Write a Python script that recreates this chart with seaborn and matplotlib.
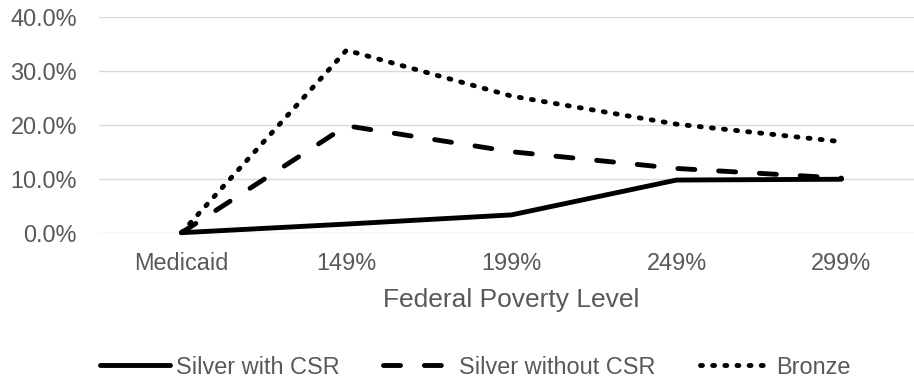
import matplotlib
matplotlib.use("Agg")
import matplotlib.pyplot as plt
import pandas as pd
import seaborn as sns

# Share of enrollees (%) by federal poverty level band
categories = ["Medicaid", "149%", "199%", "249%", "299%"]
silver_with_csr = [0.0, 1.6, 3.3, 9.75, 9.9]
silver_without_csr = [0.0, 19.8, 15.0, 11.9, 10.1]
bronze = [0.0, 33.8, 25.3, 20.1, 16.85]
series_names = ["Silver with CSR", "Silver without CSR", "Bronze"]
y_ticks = [0, 10, 20, 30, 40]

df = pd.concat(
    [
        pd.DataFrame({"level": categories, "share": vals, "series": name})
        for name, vals in zip(series_names, [silver_with_csr, silver_without_csr, bronze])
    ],
    ignore_index=True,
)

sns.set_theme(style="white")
plt.rcParams["font.family"] = ["Liberation Sans", "DejaVu Sans"]
plt.rcParams["lines.dash_capstyle"] = "round"
plt.rcParams["lines.solid_capstyle"] = "round"
plt.rcParams["lines.dash_joinstyle"] = "round"
plt.rcParams["lines.solid_joinstyle"] = "round"

text_color = "#595959"
grid_color = "#d9d9d9"
tick_size = 16.9

fig = plt.figure(figsize=(9.14, 3.81), dpi=100)
ax = fig.add_axes([99 / 914, 1 - 232.7 / 381, 825 / 914, 216 / 381])

dash_styles = {
    "Silver with CSR": "",
    "Silver without CSR": (3.5, 4.9),
    "Bronze": (0.4, 2.1),
}
sns.lineplot(
    data=df, x="level", y="share", hue="series", style="series",
    hue_order=series_names, style_order=series_names,
    palette={n: "black" for n in series_names},
    dashes=dash_styles, linewidth=3.5, sort=False, legend=False, ax=ax,
)
for ln in ax.lines:
    ln.set_clip_on(False)
    ln.set_zorder(3)

ax.set_xlim(-0.5, len(categories) - 0.5)
ax.set_ylim(0, 40)
ax.set_yticks(y_ticks)
ax.set_yticklabels([f"{v:.1f}%" for v in y_ticks])
ax.yaxis.grid(True, color=grid_color, linewidth=1.0)
ax.xaxis.grid(False)
for s in ax.spines.values():
    s.set_visible(False)

ax.tick_params(axis="y", length=0, pad=15.8, labelsize=tick_size, labelcolor=text_color)
ax.tick_params(axis="x", length=0, pad=13.9, labelsize=tick_size, labelcolor=text_color)
ax.set_ylabel("")
ax.set_xlabel("Federal Poverty Level", fontsize=19, color=text_color, labelpad=9)

handles = list(ax.lines[: len(series_names)])
leg = fig.legend(
    handles, series_names, loc="center", bbox_to_anchor=(475 / 914, 1 - 367 / 381),
    ncol=3, frameon=False, fontsize=tick_size, handlelength=2.98,
    handletextpad=0.26, columnspacing=1.87, borderpad=0, borderaxespad=0,
)
for t in leg.get_texts():
    t.set_color(text_color)

fig.savefig("out.png", dpi=100)
